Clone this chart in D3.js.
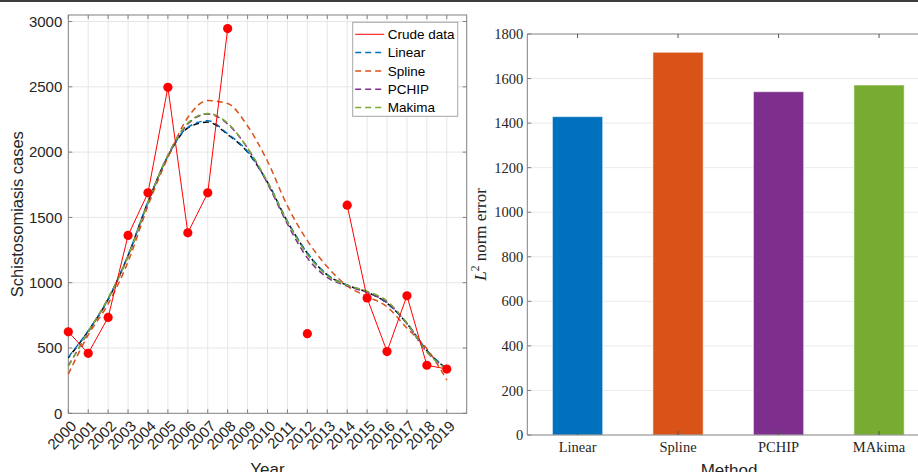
<!DOCTYPE html>
<meta charset="utf-8">
<script src="https://cdn.jsdelivr.net/npm/d3@7/dist/d3.min.js"></script>
<style>
 body { margin: 0; background: #fff; }
 svg { display: block; }
</style>
<div id="container"></div>
<script>
 var width = 918, height = 472;
 var sans = "'Liberation Sans', Arial, sans-serif";
 var serif = "'Liberation Serif', 'DejaVu Serif', serif";
 var axisColor = "#808080", gridColor = "#e6e6e6", textColor = "#262626";

 // ---- data ----
 var years = [2000, 2001, 2002, 2003, 2004, 2005, 2006, 2007, 2008, 2009,
              2010, 2011, 2012, 2013, 2014, 2015, 2016, 2017, 2018, 2019];
 var crude  = [624, 459, 734, 1362, 1688, 2496, 1382, 1688, 2946, null,
               null, null, 610, null, 1594, 883, 473, 900, 368, 339];
 var linear = [430, 632, 875, 1210, 1620, 1970, 2190, 2240, 2140, 2005,
               1770, 1470, 1228, 1062, 982, 930, 845, 690, 482, 342];
 var spline = [300, 600, 838, 1160, 1590, 1960, 2265, 2395, 2372, 2200,
               1930, 1588, 1322, 1122, 975, 895, 815, 652, 495, 255];
 var pchip  = [365, 620, 880, 1200, 1610, 1975, 2215, 2292, 2215, 2030,
               1760, 1450, 1190, 1040, 975, 925, 850, 685, 470, 340];
 var makima = [360, 625, 880, 1200, 1612, 1978, 2222, 2296, 2222, 2032,
               1772, 1466, 1215, 1055, 980, 935, 860, 690, 470, 335];
 var smooth = [425, 630, 872, 1208, 1618, 1968, 2185, 2230, 2135, 2000,
               1768, 1468, 1226, 1060, 980, 928, 843, 688, 480, 340];
 var yTicksLeft = [0, 500, 1000, 1500, 2000, 2500, 3000];

 var methods = ["Linear", "Spline", "PCHIP", "MAkima"];
 var errors  = [1429, 1718, 1541, 1571];
 var yTicksRight = [0, 200, 400, 600, 800, 1000, 1200, 1400, 1600, 1800];

 var series = [
     {name: null,     values: smooth, color: "#000000"},
     {name: "Linear", values: linear, color: "#0072BD"},
     {name: "Spline", values: spline, color: "#D95319"},
     {name: "PCHIP",  values: pchip,  color: "#7E2F8E"},
     {name: "Makima", values: makima, color: "#77AC30"}
 ];
 var barColors = ["#0072BD", "#D95319", "#7E2F8E", "#77AC30"];

 var svg = d3.select("#container").append("svg")
             .attr("width", width).attr("height", height)
             .style("font-family", sans);

 // thin dark frame line across the top
 svg.append("rect").attr("x", 0).attr("y", 0).attr("width", width).attr("height", 2).attr("fill", "#3c3c3c");

 // ================= left chart =================
 var x = d3.scaleLinear().domain([2000, 2020]).range([68.3, 466.7]);
 var y = d3.scaleLinear().domain([0, 3050]).range([413.3, 15]);
 var left = svg.append("g");

 // grid
 left.append("g").selectAll("line").data(years.slice(1)).enter().append("line")
     .attr("x1", d => x(d)).attr("x2", d => x(d))
     .attr("y1", y.range()[0]).attr("y2", y.range()[1])
     .attr("stroke", gridColor);
 left.append("g").selectAll("line").data(yTicksLeft.slice(1)).enter().append("line")
     .attr("x1", x.range()[0]).attr("x2", x.range()[1])
     .attr("y1", d => y(d)).attr("y2", d => y(d))
     .attr("stroke", gridColor);

 // box + ticks
 left.append("rect")
     .attr("x", x.range()[0]).attr("y", y.range()[1])
     .attr("width", x.range()[1] - x.range()[0]).attr("height", y.range()[0] - y.range()[1])
     .attr("fill", "none").attr("stroke", axisColor);
 var tl = 4;
 left.append("g").selectAll("path").data(years).enter().append("path")
     .attr("d", d => `M${x(d)},${y.range()[0]}v${-tl}M${x(d)},${y.range()[1]}v${tl}`)
     .attr("stroke", axisColor);
 left.append("g").selectAll("path").data(yTicksLeft).enter().append("path")
     .attr("d", d => `M${x.range()[0]},${y(d)}h${tl}M${x.range()[1]},${y(d)}h${-tl}`)
     .attr("stroke", axisColor);

 // tick labels
 left.append("g").selectAll("text").data(yTicksLeft).enter().append("text")
     .attr("x", x.range()[0] - 6).attr("y", d => y(d)).attr("dy", "0.35em")
     .attr("text-anchor", "end").attr("font-size", 15).attr("fill", textColor)
     .text(d => d);
 left.append("g").selectAll("text").data(years).enter().append("text")
     .attr("transform", d => `translate(${x(d) + 9},${427}) rotate(-45)`)
     .attr("text-anchor", "end").attr("font-size", 15).attr("fill", textColor)
     .text(d => d);

 left.append("text")
     .attr("x", (x.range()[0] + x.range()[1]) / 2).attr("y", 474.5)
     .attr("text-anchor", "middle").attr("font-size", 17).attr("fill", textColor)
     .text("Year");
 left.append("text")
     .attr("transform", `translate(23,${(y.range()[0] + y.range()[1]) / 2}) rotate(-90)`)
     .attr("text-anchor", "middle").attr("font-size", 16.5).attr("fill", textColor)
     .text("Schistosomiasis cases");

 // interpolation curves
 var curve = d3.line()
               .curve(d3.curveMonotoneX)
               .x((d, i) => x(years[i]))
               .y(d => y(d));
 left.append("g").selectAll("path").data(series).enter().append("path")
     .attr("d", d => curve(d.values))
     .attr("fill", "none")
     .attr("stroke", d => d.color)
     .attr("stroke-width", 1.5)
     .attr("stroke-dasharray", "6,4")
     .attr("stroke-dashoffset", (d, i) => i === 0 ? 3 : 0);

 // crude data
 var crudeLine = d3.line()
                   .defined(d => d != null)
                   .x((d, i) => x(years[i]))
                   .y(d => y(d));
 left.append("path")
     .attr("d", crudeLine(crude))
     .attr("fill", "none").attr("stroke", "#ff0000").attr("stroke-width", 1);
 left.append("g").selectAll("circle")
     .data(crude.map((v, i) => ({year: years[i], v: v})).filter(d => d.v != null))
     .enter().append("circle")
     .attr("cx", d => x(d.year)).attr("cy", d => y(d.v)).attr("r", 4.6)
     .attr("fill", "#ff0000");

 // legend
 var legend = left.append("g").attr("transform", "translate(352.7,22.3)");
 legend.append("rect").attr("width", 105).attr("height", 94)
       .attr("fill", "#fff").attr("stroke", "#a6a6a6");
 var legendItems = [{name: "Crude data", color: "#ff0000", dash: null}]
     .concat(series.filter(d => d.name).map(d => ({name: d.name, color: d.color, dash: "6,4"})));
 var li = legend.selectAll("g.item").data(legendItems).enter().append("g")
                .attr("transform", (d, i) => `translate(0,${12 + i * 18.3})`);
 li.append("line").attr("x1", 2.5).attr("x2", 31.5)
   .attr("stroke", d => d.color).attr("stroke-width", d => d.dash ? 1.5 : 1)
   .attr("stroke-dasharray", d => d.dash);
 li.append("text").attr("x", 35).attr("dy", "0.35em")
   .attr("font-size", 13.5).attr("fill", "#000").text(d => d.name);

 // ================= right chart =================
 var x2 = d3.scaleBand().domain(methods).range([527.3, 929.3]).paddingInner(0.5).paddingOuter(0.25);
 var y2 = d3.scaleLinear().domain([0, 1800]).range([435, 34]);
 var right = svg.append("g");

 right.append("g").selectAll("line").data(yTicksRight.slice(1, -1)).enter().append("line")
      .attr("x1", x2.range()[0]).attr("x2", x2.range()[1])
      .attr("y1", d => y2(d)).attr("y2", d => y2(d))
      .attr("stroke", "#ebebeb");

 right.append("g").selectAll("rect").data(methods).enter().append("rect")
      .attr("x", d => x2(d)).attr("width", x2.bandwidth())
      .attr("y", (d, i) => y2(errors[i])).attr("height", (d, i) => y2(0) - y2(errors[i]))
      .attr("fill", (d, i) => barColors[i])
      .attr("stroke", "#ffffff").attr("stroke-opacity", 0.55).attr("stroke-width", 1);

 right.append("path")
      .attr("d", `M${x2.range()[1]},${y2.range()[1]}H${x2.range()[0]}V${y2.range()[0]}H${x2.range()[1]}`)
      .attr("fill", "none").attr("stroke", axisColor);
 right.append("g").selectAll("path").data(methods).enter().append("path")
      .attr("d", d => {
          var cx = x2(d) + x2.bandwidth() / 2;
          return `M${cx},${y2.range()[0]}v${-tl}M${cx},${y2.range()[1]}v${tl}`;
      })
      .attr("stroke", "#555");
 right.append("g").selectAll("path").data(yTicksRight).enter().append("path")
      .attr("d", d => `M${x2.range()[0]},${y2(d)}h${tl}`)
      .attr("stroke", axisColor);

 right.append("g").selectAll("text").data(yTicksRight).enter().append("text")
      .attr("x", x2.range()[0] - 4).attr("y", d => y2(d)).attr("dy", "0.35em")
      .attr("text-anchor", "end").attr("font-size", 14.5).attr("font-family", serif)
      .attr("fill", textColor).text(d => d);
 right.append("g").selectAll("text").data(methods).enter().append("text")
      .attr("x", d => x2(d) + x2.bandwidth() / 2).attr("y", 452)
      .attr("text-anchor", "middle").attr("font-size", 14.5).attr("font-family", serif)
      .attr("fill", textColor).text(d => d);

 var yl = right.append("text")
      .attr("transform", `translate(486,${(y2.range()[0] + y2.range()[1]) / 2}) rotate(-90)`)
      .attr("text-anchor", "middle").attr("font-size", 17).attr("font-family", serif)
      .attr("fill", textColor);
 yl.append("tspan").attr("font-style", "italic").text("L");
 yl.append("tspan").attr("font-size", 11.5).attr("dy", -7).text("2");
 yl.append("tspan").attr("dy", 7).text(" norm error");

 right.append("text")
      .attr("x", 729).attr("y", 475.5)
      .attr("text-anchor", "middle").attr("font-size", 17).attr("fill", textColor)
      .text("Method");
</script>
